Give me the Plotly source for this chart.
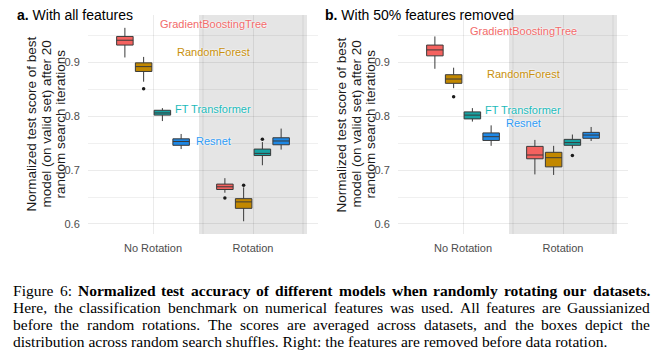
import plotly.graph_objects as go

W, H = 663, 355

# ---------------- data ----------------
models = ["GradientBoostingTree", "RandomForest", "FT Transformer", "Resnet"]
conditions = ["No Rotation", "Rotation"]

# Panel a: with all features  (values per model: [No Rotation, Rotation])
a_low = [[0.909, 0.658], [0.864, 0.605], [0.791, 0.709], [0.739, 0.738]]
a_q1 = [[0.932, 0.664], [0.883, 0.629], [0.802, 0.727], [0.746, 0.747]]
a_med = [[0.941, 0.669], [0.892, 0.641], [0.806, 0.731], [0.753, 0.754]]
a_q3 = [[0.948, 0.674], [0.899, 0.647], [0.811, 0.739], [0.758, 0.760]]
a_high = [[0.964, 0.685], [0.910, 0.668], [0.815, 0.752], [0.767, 0.777]]
a_out_model = [1, 0, 1, 2]
a_out_cond = [0, 1, 1, 1]
a_out_val = [0.851, 0.648, 0.672, 0.757]
a_label_y = [0.971, 0.919, 0.813, 0.754]

# Panel b: with 50% features removed
b_low = [[0.888, 0.692], [0.852, 0.691], [0.790, 0.740], [0.745, 0.754]]
b_q1 = [[0.912, 0.721], [0.861, 0.706], [0.795, 0.746], [0.755, 0.759]]
b_med = [[0.923, 0.728], [0.869, 0.723], [0.802, 0.751], [0.762, 0.765]]
b_q3 = [[0.932, 0.744], [0.877, 0.733], [0.808, 0.757], [0.769, 0.770]]
b_high = [[0.948, 0.756], [0.890, 0.745], [0.815, 0.766], [0.783, 0.780]]
b_out_model = [1, 2]
b_out_cond = [0, 1]
b_out_val = [0.836, 0.727]
b_label_y = [0.958, 0.878, 0.811, 0.787]

label_x = 1.6
y_ticks = [0.6, 0.7, 0.8, 0.9]
y_minor = [0.65, 0.75, 0.85, 0.95]

fills = ["#F4625F", "#C28800", "#17A2A2", "#1E88E5"]
label_colors = ["#F26B6B", "#C8900C", "#1DBABA", "#2E9BF5"]

dodge = [-0.28125, -0.09375, 0.09375, 0.28125]
box_w = 0.165

fig = go.Figure()

panels = [
    dict(xa="x", ya="y", low=a_low, q1=a_q1, med=a_med, q3=a_q3, high=a_high,
         om=a_out_model, oc=a_out_cond, ov=a_out_val, ly=a_label_y),
    dict(xa="x2", ya="y2", low=b_low, q1=b_q1, med=b_med, q3=b_q3, high=b_high,
         om=b_out_model, oc=b_out_cond, ov=b_out_val, ly=b_label_y),
]

for p in panels:
    for mi, m in enumerate(models):
        xs = [ci + 1 + dodge[mi] for ci in range(len(conditions))]
        fig.add_trace(go.Box(
            x=xs, q1=p["q1"][mi], median=p["med"][mi], q3=p["q3"][mi],
            lowerfence=p["low"][mi], upperfence=p["high"][mi],
            width=box_w, fillcolor=fills[mi],
            line=dict(color="#3a3a3a", width=1), whiskerwidth=0,
            boxpoints=False, xaxis=p["xa"], yaxis=p["ya"],
            showlegend=False, hoverinfo="skip", name=m))
    ox = [p["oc"][k] + 1 + dodge[p["om"][k]] for k in range(len(p["ov"]))]
    fig.add_trace(go.Scatter(
        x=ox, y=p["ov"], mode="markers",
        marker=dict(size=3.5, color="#1a1a1a"),
        xaxis=p["xa"], yaxis=p["ya"], showlegend=False, hoverinfo="skip"))

# ---------------- axes ----------------
y_dom = [1 - 234 / H, 1 - 15 / H]
x_doms = [[88 / W, 318 / W], [398 / W, 628 / W]]
axis_font = dict(family="Liberation Sans, Arial, sans-serif", size=11, color="#4D4D4D")
grid_col = "rgba(0,0,0,0.08)"

for i, xd in enumerate(x_doms):
    sfx = "" if i == 0 else "2"
    fig.update_layout(**{
        "xaxis" + sfx: dict(
            domain=xd, range=[0.35, 2.65], anchor="y" + sfx,
            tickvals=[1, 2], ticktext=conditions, tickfont=axis_font,
            showgrid=True, gridcolor=grid_col, gridwidth=1,
            zeroline=False, showline=False,
            ticks="outside", ticklen=4, tickcolor="rgba(0,0,0,0)"),
        "yaxis" + sfx: dict(
            domain=y_dom, range=[0.5814, 0.9878], anchor="x" + sfx,
            tickvals=y_ticks, ticktext=[f"{v:.1f}" for v in y_ticks],
            tickfont=axis_font,
            showgrid=True, gridcolor=grid_col, gridwidth=1,
            minor=dict(tickvals=y_minor, showgrid=True, gridcolor="rgba(0,0,0,0.06)",
                       gridwidth=0.7, ticks=""),
            zeroline=False, showline=False,
            ticks="outside", ticklen=5, tickcolor="rgba(0,0,0,0)"),
    })

shapes = []
for sfx in ["", "2"]:
    shapes.append(dict(type="rect", xref="x" + sfx, yref="y" + sfx + " domain",
                       x0=1.46, x1=2.54, y0=0, y1=1,
                       fillcolor="rgba(0,0,0,0.1)", line=dict(width=0),
                       layer="below"))
    for xv in [1.5, 2.5]:
        shapes.append(dict(type="line", xref="x" + sfx, yref="y" + sfx + " domain",
                           x0=xv, x1=xv, y0=0, y1=1,
                           line=dict(color=grid_col, width=1), layer="below"))

annotations = []
sans = "Liberation Sans, Arial, sans-serif"

# model labels
for i, p in enumerate(panels):
    sfx = "" if i == 0 else "2"
    for mi, m in enumerate(models):
        annotations.append(dict(
            x=label_x, y=p["ly"][mi], xref="x" + sfx, yref="y" + sfx,
            text=m, showarrow=False, xanchor="center", yanchor="middle",
            font=dict(family=sans, size=11, color=label_colors[mi],
                      shadow="0px 0px 2px #ffffff, 0px 0px 2px #ffffff")))

# panel titles
titles = ["<b>a.</b> With all features", "<b>b.</b> With 50% features removed"]
title_x = [15, 323]
for t, tx in zip(titles, title_x):
    annotations.append(dict(x=tx / W, y=1 - 15 / H, xref="paper", yref="paper",
                            text=t, showarrow=False, xanchor="left", yanchor="middle",
                            font=dict(family=sans, size=14, color="#000000")))

# y-axis titles (three lines each)
ytitle_lines = ["Normalized test score of best", "model (on valid set) after 20",
                "random search iterations"]
ytitle_x = [[31, 46, 60], [341, 356, 370]]
for xs in ytitle_x:
    for line, lx in zip(ytitle_lines, xs):
        annotations.append(dict(x=lx / W, y=1 - 124.5 / H, xref="paper", yref="paper",
                                text=line, textangle=-90, showarrow=False,
                                xanchor="center", yanchor="middle",
                                font=dict(family=sans, size=13.5, color="#1a1a1a")))

# ---------------- caption (justified, Times metrics) ----------------
TR = dict(zip("abcdefghijklmnopqrstuvwxyz",
              [444, 500, 444, 500, 444, 333, 500, 500, 278, 278, 500, 278, 778,
               500, 500, 500, 500, 333, 389, 278, 500, 500, 722, 500, 500, 444]))
TR.update({" ": 250, ".": 250, ",": 250, ":": 278, "6": 500, "F": 556, "H": 722,
           "A": 722, "G": 722, "T": 611, "R": 667, "N": 722})
TB = dict(zip("abcdefghijklmnopqrstuvwxyz",
              [500, 556, 444, 556, 444, 333, 500, 556, 278, 333, 556, 278, 833,
               556, 500, 556, 556, 444, 389, 333, 556, 500, 722, 500, 500, 444]))
TB.update({" ": 250, ".": 250, "N": 722})


def wid(s, bold):
    t = TB if bold else TR
    return sum(t.get(c, 500) for c in s) / 1000.0


cap_lines = [
    [("Figure", 0), ("6:", 0)] + [(w, 1) for w in
        "Normalized test accuracy of different models when randomly rotating our datasets.".split()],
    [(w, 0) for w in "Here, the classification benchmark on numerical features was used. All features are Gaussianized".split()],
    [(w, 0) for w in "before the random rotations.  The scores are averaged across datasets, and the boxes depict the".split()],
]
last_line = "distribution across random search shuffles. Right: the features are removed before data rotation."

cap_x0, cap_x1, last_x1 = 13, 650, 608
fs = (last_x1 - cap_x0) / wid(last_line, False)
cap_y = [290, 307, 324, 341]
serif = "Liberation Serif, Times New Roman, serif"

for li, words in enumerate(cap_lines):
    wsum = sum(wid(w, b) * fs for w, b in words)
    gap = (cap_x1 - cap_x0 - wsum) / (len(words) - 1)
    xpos = cap_x0
    for w, b in words:
        annotations.append(dict(x=(xpos - 2) / W, y=1 - cap_y[li] / H, xref="paper", yref="paper",
                                text=f"<b>{w}</b>" if b else w, showarrow=False,
                                xanchor="left", yanchor="middle",
                                font=dict(family=serif, size=fs, color="#000000")))
        xpos += wid(w, b) * fs + gap

annotations.append(dict(x=(cap_x0 - 2) / W, y=1 - cap_y[3] / H, xref="paper", yref="paper",
                        text=last_line, showarrow=False, xanchor="left", yanchor="middle",
                        font=dict(family=serif, size=fs, color="#000000")))

fig.update_layout(
    width=W, height=H,
    margin=dict(l=0, r=0, t=0, b=0),
    paper_bgcolor="white", plot_bgcolor="white",
    shapes=shapes, annotations=annotations,
    showlegend=False,
)

fig.write_html("out.html", config={"displayModeBar": False},
               post_script="document.body.style.margin='0px';document.body.style.padding='0px';")
